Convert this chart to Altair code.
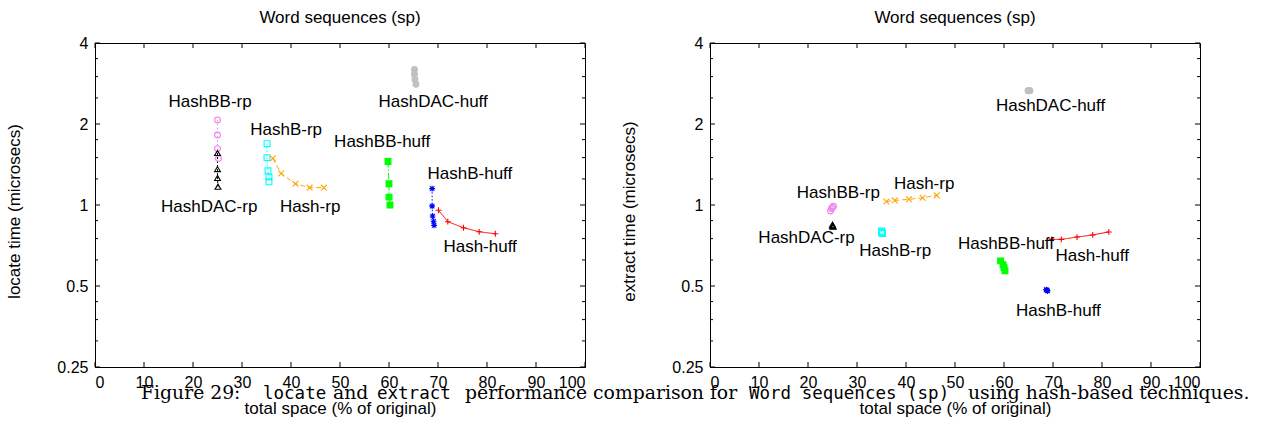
import altair as alt
import pandas as pd

# ---------------- data ----------------
series = ["HashBB-rp", "HashDAC-rp", "HashB-rp", "Hash-rp",
          "HashDAC-huff", "HashBB-huff", "HashB-huff", "Hash-huff"]

# locate panel (total space %, locate time microsecs)
loc_x = {
    "HashBB-rp":    [25.0, 25.0, 25.0, 25.2],
    "HashDAC-rp":   [25.0, 25.0, 25.0, 25.1],
    "HashB-rp":     [35.1, 35.1, 35.3, 35.5, 35.5],
    "Hash-rp":      [36.3, 38.0, 40.9, 43.8, 46.7],
    "HashDAC-huff": [65.2, 65.2, 65.3, 65.5],
    "HashBB-huff":  [59.8, 60.0, 60.0, 60.2],
    "HashB-huff":   [68.8, 68.8, 68.9, 69.1, 69.2],
    "Hash-huff":    [70.1, 72.0, 75.2, 78.4, 81.7],
}
loc_y = {
    "HashBB-rp":    [2.07, 1.82, 1.62, 1.49],
    "HashDAC-rp":   [1.56, 1.36, 1.26, 1.17],
    "HashB-rp":     [1.69, 1.50, 1.34, 1.27, 1.22],
    "Hash-rp":      [1.49, 1.31, 1.20, 1.16, 1.16],
    "HashDAC-huff": [3.19, 3.06, 2.93, 2.81],
    "HashBB-huff":  [1.45, 1.20, 1.07, 1.00],
    "HashB-huff":   [1.15, 0.99, 0.91, 0.87, 0.84],
    "Hash-huff":    [0.956, 0.867, 0.823, 0.795, 0.782],
}
loc_label_names = ["HashBB-rp", "HashB-rp", "HashDAC-huff", "HashBB-huff",
                   "HashB-huff", "Hash-huff", "HashDAC-rp", "Hash-rp"]
loc_label_x = [23.5, 39.0, 69.0, 58.6, 76.5, 78.6, 23.3, 43.9]
loc_label_y = [2.42, 1.90, 2.42, 1.71, 1.30, 0.698, 0.983, 0.983]

# extract panel (total space %, extract time microsecs)
ext_x = {
    "HashBB-rp":    [24.6, 24.8, 25.0, 25.2],
    "HashDAC-rp":   [25.0, 25.0, 25.1, 25.1],
    "HashB-rp":     [35.0, 35.0, 35.1, 35.1, 35.2],
    "Hash-rp":      [36.0, 37.7, 40.6, 43.4, 46.3],
    "HashDAC-huff": [64.9, 65.1, 65.3],
    "HashBB-huff":  [59.3, 59.8, 60.0, 60.2],
    "HashB-huff":   [68.6, 68.7, 68.8, 68.9],
    "Hash-huff":    [69.7, 71.7, 74.9, 78.1, 81.4],
}
ext_y = {
    "HashBB-rp":    [0.95, 0.97, 0.98, 0.99],
    "HashDAC-rp":   [0.845, 0.84, 0.835, 0.83],
    "HashB-rp":     [0.80, 0.795, 0.79, 0.787, 0.783],
    "Hash-rp":      [1.03, 1.04, 1.05, 1.064, 1.086],
    "HashDAC-huff": [2.66, 2.665, 2.66],
    "HashBB-huff":  [0.62, 0.60, 0.585, 0.57],
    "HashB-huff":   [0.485, 0.483, 0.481, 0.479],
    "Hash-huff":    [0.745, 0.745, 0.76, 0.774, 0.794],
}
ext_label_names = ["HashDAC-huff", "HashBB-rp", "Hash-rp", "HashDAC-rp",
                   "HashB-rp", "HashBB-huff", "Hash-huff", "HashB-huff"]
ext_label_x = [69.5, 26.2, 43.7, 19.7, 37.8, 60.4, 78.0, 71.1]
ext_label_y = [2.33, 1.108, 1.197, 0.754, 0.675, 0.716, 0.646, 0.404]

x_ticks = [0, 10, 20, 30, 40, 50, 60, 70, 80, 90, 100]
y_ticks = [0.25, 0.5, 1, 2, 4]
y_minor = [0.3125, 0.375, 0.4375, 0.625, 0.75, 0.875,
           1.25, 1.5, 1.75, 2.5, 3, 3.5]

title_text = "Word sequences (sp)"
x_title = "total space (% of original)"
loc_y_title = "locate time (microsecs)"
ext_y_title = "extract time (microsecs)"

caption_parts = ["Figure 29:", "locate", "and", "extract",
                 "performance comparison for", "Word sequences (sp)",
                 "using hash-based techniques."]
caption_mono = [False, True, False, True, False, True, False]

# ---------------- styles ----------------
colors = ["#EE82EE", "#000000", "#00FFFF", "#FFA500",
          "#C0C0C0", "#00FF00", "#0000FF", "#FF0000"]
fills = ["transparent", "transparent", "transparent", "transparent",
         "#C0C0C0", "#00FF00", "transparent", "transparent"]
XPATH = "M-1,-1L1,1M-1,1L1,-1"
PLUS = "M-1,0L1,0M0,-1L0,1"
STAR = "M-1,0L1,0M0,-1L0,1M-0.75,-0.75L0.75,0.75M-0.75,0.75L0.75,-0.75"
shapes = ["circle", "triangle-up", "square", XPATH,
          "circle", "square", STAR, PLUS]
dashes = [[1.5, 2.5], [2, 2], [1.5, 2], [5, 3], [4, 2], [6, 2, 1.5, 2], [1.5, 2], [1, 0]]

W, H = 490, 324
FONT = "Liberation Sans"

xs = alt.Scale(domain=[0, 100], nice=False, zero=False)
ys = alt.Scale(type="log", base=2, domain=[0.25, 4], nice=False)
color_scale = alt.Scale(domain=series, range=colors)
fill_scale = alt.Scale(domain=series, range=fills)
shape_scale = alt.Scale(domain=series, range=shapes)
dash_scale = alt.Scale(domain=series, range=dashes)


def to_df(dx, dy):
    rows = []
    for s in series:
        for i, (a, b) in enumerate(zip(dx[s], dy[s])):
            rows.append({"series": s, "idx": i, "x": a, "y": b})
    return pd.DataFrame(rows)


def panel(dx, dy, lnames, lx, ly, ytitle, caption=False):
    df = to_df(dx, dy)
    X = alt.X("x:Q", scale=xs, title=x_title,
              axis=alt.Axis(values=x_ticks, format="d", titleY=41,
                            titleBaseline="middle"))
    Y = alt.Y("y:Q", scale=ys, title=ytitle,
              axis=alt.Axis(values=y_ticks, format="~g", titleX=-81,
                            titleY=H / 2 + 6, titleBaseline="middle"))
    base = alt.Chart(df)
    lines = base.mark_line(strokeWidth=1).encode(
        x=X, y=Y,
        color=alt.Color("series:N", scale=color_scale, legend=None),
        strokeDash=alt.StrokeDash("series:N", scale=dash_scale, legend=None),
        detail="series:N",
        order="idx:Q",
    )
    points = base.mark_point(size=34, strokeWidth=1.1, filled=False, opacity=1).encode(
        x="x:Q", y="y:Q",
        color=alt.Color("series:N", scale=color_scale, legend=None),
        fill=alt.Fill("series:N", scale=fill_scale, legend=None),
        shape=alt.Shape("series:N", scale=shape_scale, legend=None),
    )
    ldf = pd.DataFrame({"name": lnames, "x": lx, "y": ly})
    labels = alt.Chart(ldf).mark_text(font=FONT, fontSize=17, color="black",
                                      align="center", baseline="middle").encode(
        x="x:Q", y="y:Q", text="name:N")

    xt = alt.Chart(pd.DataFrame({"x": x_ticks}))
    xtb = xt.mark_rule(color="black", strokeWidth=1).encode(
        x="x:Q", y=alt.value(H), y2=alt.value(H - 5))
    xtt = xt.mark_rule(color="black", strokeWidth=1).encode(
        x="x:Q", y=alt.value(0), y2=alt.value(5))
    yt = alt.Chart(pd.DataFrame({"y": y_ticks}))
    ytl = yt.mark_rule(color="black", strokeWidth=1).encode(
        y="y:Q", x=alt.value(0), x2=alt.value(5))
    ytr = yt.mark_rule(color="black", strokeWidth=1).encode(
        y="y:Q", x=alt.value(W), x2=alt.value(W - 5))
    ym = alt.Chart(pd.DataFrame({"y": y_minor}))
    yml = ym.mark_rule(color="black", strokeWidth=1).encode(
        y="y:Q", x=alt.value(0), x2=alt.value(3))
    ymr = ym.mark_rule(color="black", strokeWidth=1).encode(
        y="y:Q", x=alt.value(W), x2=alt.value(W - 3))

    layers = [lines, points, labels, xtb, xtt, ytl, ytr, yml, ymr]

    if caption:
        cx = [46, 168, 238, 282, 370, 654, 873]
        for part, mono, px in zip(caption_parts, caption_mono, cx):
            c = alt.Chart(alt.Data(values=[{"t": part}])).mark_text(
                font="DejaVu Sans Mono" if mono else "DejaVu Serif",
                fontSize=17.5 if mono else 18.8,
                color="black", align="left", baseline="alphabetic",
            ).encode(text="t:N", x=alt.value(px), y=alt.value(H + 32))
            layers.append(c)

    return alt.layer(*layers).properties(
        width=W, height=H,
        title=alt.TitleParams(title_text, font=FONT, fontSize=17,
                              fontWeight="normal", color="black",
                              anchor="middle", offset=8),
    )


left = panel(loc_x, loc_y, loc_label_names, loc_label_x, loc_label_y, loc_y_title, caption=True)
right = panel(ext_x, ext_y, ext_label_names, ext_label_x, ext_label_y, ext_y_title)

chart = alt.hconcat(left, right, spacing=125, bounds="flush").properties(
    padding={"left": 4, "top": 8, "right": 2, "bottom": 2},
    background="white",
).configure_view(stroke="black", strokeWidth=1).configure_axis(
    grid=False, domain=True, domainColor="black", domainWidth=1,
    ticks=False, labelPadding=7, labelFont=FONT, labelFontSize=16,
    labelColor="black", titleFont=FONT, titleFontSize=17,
    titleFontWeight="normal", titleColor="black",
)

chart.save("out.html", embed_options={"renderer": "svg", "actions": False})
